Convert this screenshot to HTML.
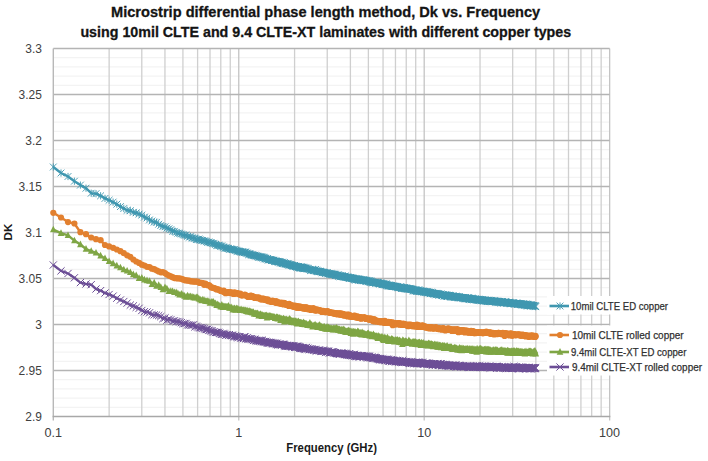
<!DOCTYPE html><html><head><meta charset="utf-8"><style>html,body{margin:0;padding:0;background:#fff;width:708px;height:461px;overflow:hidden}svg{display:block}text{font-family:"Liberation Sans",sans-serif}</style></head><body>
<svg width="708" height="461" viewBox="0 0 708 461">
<line x1="53.30" y1="57.70" x2="609.65" y2="57.70" stroke="#f0f0f0" stroke-width="1"/>
<line x1="53.30" y1="66.90" x2="609.65" y2="66.90" stroke="#f0f0f0" stroke-width="1"/>
<line x1="53.30" y1="76.10" x2="609.65" y2="76.10" stroke="#f0f0f0" stroke-width="1"/>
<line x1="53.30" y1="85.30" x2="609.65" y2="85.30" stroke="#f0f0f0" stroke-width="1"/>
<line x1="53.30" y1="103.70" x2="609.65" y2="103.70" stroke="#f0f0f0" stroke-width="1"/>
<line x1="53.30" y1="112.90" x2="609.65" y2="112.90" stroke="#f0f0f0" stroke-width="1"/>
<line x1="53.30" y1="122.10" x2="609.65" y2="122.10" stroke="#f0f0f0" stroke-width="1"/>
<line x1="53.30" y1="131.30" x2="609.65" y2="131.30" stroke="#f0f0f0" stroke-width="1"/>
<line x1="53.30" y1="149.70" x2="609.65" y2="149.70" stroke="#f0f0f0" stroke-width="1"/>
<line x1="53.30" y1="158.90" x2="609.65" y2="158.90" stroke="#f0f0f0" stroke-width="1"/>
<line x1="53.30" y1="168.10" x2="609.65" y2="168.10" stroke="#f0f0f0" stroke-width="1"/>
<line x1="53.30" y1="177.30" x2="609.65" y2="177.30" stroke="#f0f0f0" stroke-width="1"/>
<line x1="53.30" y1="195.70" x2="609.65" y2="195.70" stroke="#f0f0f0" stroke-width="1"/>
<line x1="53.30" y1="204.90" x2="609.65" y2="204.90" stroke="#f0f0f0" stroke-width="1"/>
<line x1="53.30" y1="214.10" x2="609.65" y2="214.10" stroke="#f0f0f0" stroke-width="1"/>
<line x1="53.30" y1="223.30" x2="609.65" y2="223.30" stroke="#f0f0f0" stroke-width="1"/>
<line x1="53.30" y1="241.70" x2="609.65" y2="241.70" stroke="#f0f0f0" stroke-width="1"/>
<line x1="53.30" y1="250.90" x2="609.65" y2="250.90" stroke="#f0f0f0" stroke-width="1"/>
<line x1="53.30" y1="260.10" x2="609.65" y2="260.10" stroke="#f0f0f0" stroke-width="1"/>
<line x1="53.30" y1="269.30" x2="609.65" y2="269.30" stroke="#f0f0f0" stroke-width="1"/>
<line x1="53.30" y1="287.70" x2="609.65" y2="287.70" stroke="#f0f0f0" stroke-width="1"/>
<line x1="53.30" y1="296.90" x2="609.65" y2="296.90" stroke="#f0f0f0" stroke-width="1"/>
<line x1="53.30" y1="306.10" x2="609.65" y2="306.10" stroke="#f0f0f0" stroke-width="1"/>
<line x1="53.30" y1="315.30" x2="609.65" y2="315.30" stroke="#f0f0f0" stroke-width="1"/>
<line x1="53.30" y1="333.70" x2="609.65" y2="333.70" stroke="#f0f0f0" stroke-width="1"/>
<line x1="53.30" y1="342.90" x2="609.65" y2="342.90" stroke="#f0f0f0" stroke-width="1"/>
<line x1="53.30" y1="352.10" x2="609.65" y2="352.10" stroke="#f0f0f0" stroke-width="1"/>
<line x1="53.30" y1="361.30" x2="609.65" y2="361.30" stroke="#f0f0f0" stroke-width="1"/>
<line x1="53.30" y1="379.70" x2="609.65" y2="379.70" stroke="#f0f0f0" stroke-width="1"/>
<line x1="53.30" y1="388.90" x2="609.65" y2="388.90" stroke="#f0f0f0" stroke-width="1"/>
<line x1="53.30" y1="398.10" x2="609.65" y2="398.10" stroke="#f0f0f0" stroke-width="1"/>
<line x1="53.30" y1="407.30" x2="609.65" y2="407.30" stroke="#f0f0f0" stroke-width="1"/>
<line x1="109.13" y1="48.50" x2="109.13" y2="416.50" stroke="#cfcfcf" stroke-width="1.3"/>
<line x1="141.78" y1="48.50" x2="141.78" y2="416.50" stroke="#cfcfcf" stroke-width="1.3"/>
<line x1="164.95" y1="48.50" x2="164.95" y2="416.50" stroke="#cfcfcf" stroke-width="1.3"/>
<line x1="182.92" y1="48.50" x2="182.92" y2="416.50" stroke="#cfcfcf" stroke-width="1.3"/>
<line x1="197.61" y1="48.50" x2="197.61" y2="416.50" stroke="#cfcfcf" stroke-width="1.3"/>
<line x1="210.02" y1="48.50" x2="210.02" y2="416.50" stroke="#cfcfcf" stroke-width="1.3"/>
<line x1="220.78" y1="48.50" x2="220.78" y2="416.50" stroke="#cfcfcf" stroke-width="1.3"/>
<line x1="230.26" y1="48.50" x2="230.26" y2="416.50" stroke="#cfcfcf" stroke-width="1.3"/>
<line x1="294.58" y1="48.50" x2="294.58" y2="416.50" stroke="#cfcfcf" stroke-width="1.3"/>
<line x1="327.23" y1="48.50" x2="327.23" y2="416.50" stroke="#cfcfcf" stroke-width="1.3"/>
<line x1="350.40" y1="48.50" x2="350.40" y2="416.50" stroke="#cfcfcf" stroke-width="1.3"/>
<line x1="368.37" y1="48.50" x2="368.37" y2="416.50" stroke="#cfcfcf" stroke-width="1.3"/>
<line x1="383.06" y1="48.50" x2="383.06" y2="416.50" stroke="#cfcfcf" stroke-width="1.3"/>
<line x1="395.47" y1="48.50" x2="395.47" y2="416.50" stroke="#cfcfcf" stroke-width="1.3"/>
<line x1="406.23" y1="48.50" x2="406.23" y2="416.50" stroke="#cfcfcf" stroke-width="1.3"/>
<line x1="415.71" y1="48.50" x2="415.71" y2="416.50" stroke="#cfcfcf" stroke-width="1.3"/>
<line x1="480.03" y1="48.50" x2="480.03" y2="416.50" stroke="#cfcfcf" stroke-width="1.3"/>
<line x1="512.68" y1="48.50" x2="512.68" y2="416.50" stroke="#cfcfcf" stroke-width="1.3"/>
<line x1="535.85" y1="48.50" x2="535.85" y2="416.50" stroke="#cfcfcf" stroke-width="1.3"/>
<line x1="553.82" y1="48.50" x2="553.82" y2="416.50" stroke="#cfcfcf" stroke-width="1.3"/>
<line x1="568.51" y1="48.50" x2="568.51" y2="416.50" stroke="#cfcfcf" stroke-width="1.3"/>
<line x1="580.92" y1="48.50" x2="580.92" y2="416.50" stroke="#cfcfcf" stroke-width="1.3"/>
<line x1="591.68" y1="48.50" x2="591.68" y2="416.50" stroke="#cfcfcf" stroke-width="1.3"/>
<line x1="601.16" y1="48.50" x2="601.16" y2="416.50" stroke="#cfcfcf" stroke-width="1.3"/>
<line x1="238.75" y1="48.50" x2="238.75" y2="420.50" stroke="#c4c4c4" stroke-width="1.3"/>
<line x1="424.20" y1="48.50" x2="424.20" y2="420.50" stroke="#c4c4c4" stroke-width="1.3"/>
<line x1="609.65" y1="48.50" x2="609.65" y2="420.50" stroke="#c4c4c4" stroke-width="1.3"/>
<line x1="53.30" y1="48.50" x2="609.65" y2="48.50" stroke="#b4b4b4" stroke-width="1.3"/>
<line x1="53.30" y1="94.50" x2="609.65" y2="94.50" stroke="#b4b4b4" stroke-width="1.3"/>
<line x1="53.30" y1="140.50" x2="609.65" y2="140.50" stroke="#b4b4b4" stroke-width="1.3"/>
<line x1="53.30" y1="186.50" x2="609.65" y2="186.50" stroke="#b4b4b4" stroke-width="1.3"/>
<line x1="53.30" y1="232.50" x2="609.65" y2="232.50" stroke="#b4b4b4" stroke-width="1.3"/>
<line x1="53.30" y1="278.50" x2="609.65" y2="278.50" stroke="#b4b4b4" stroke-width="1.3"/>
<line x1="53.30" y1="324.50" x2="609.65" y2="324.50" stroke="#b4b4b4" stroke-width="1.3"/>
<line x1="53.30" y1="370.50" x2="609.65" y2="370.50" stroke="#b4b4b4" stroke-width="1.3"/>
<line x1="53.30" y1="48.50" x2="53.30" y2="420.50" stroke="#b8b8b8" stroke-width="1.4"/>
<line x1="52.60" y1="416.50" x2="610.35" y2="416.50" stroke="#a8a8a8" stroke-width="1.4"/>
<defs>
<marker id="mblue" markerUnits="userSpaceOnUse" markerWidth="12" markerHeight="12" viewBox="-6 -6 12 12" refX="0" refY="0" overflow="visible"><path d="M-3.4,-3.4L3.4,3.4M3.4,-3.4L-3.4,3.4M0,-3.6L0,3.6" stroke="#3f97b0" stroke-width="0.9" fill="none"/></marker>
<marker id="morange" markerUnits="userSpaceOnUse" markerWidth="12" markerHeight="12" viewBox="-6 -6 12 12" refX="0" refY="0" overflow="visible"><circle r="3.1" fill="#e2802f"/></marker>
<marker id="mgreen" markerUnits="userSpaceOnUse" markerWidth="12" markerHeight="12" viewBox="-6 -6 12 12" refX="0" refY="0" overflow="visible"><path d="M0,-3.9L3.3,2.7L-3.3,2.7Z" fill="#7fa645"/></marker>
<marker id="mpurple" markerUnits="userSpaceOnUse" markerWidth="12" markerHeight="12" viewBox="-6 -6 12 12" refX="0" refY="0" overflow="visible"><path d="M-3.6,-3.6L3.6,3.6M3.6,-3.6L-3.6,3.6" stroke="#6c4e96" stroke-width="1" fill="none"/></marker>
</defs>
<polyline points="53.3,167.0 61.0,173.0 68.0,176.5 74.4,181.2 80.4,185.1 86.0,188.2 91.2,193.2 96.0,193.7 100.6,195.8 105.0,198.4 109.1,200.2 113.1,202.1 116.8,204.2 120.4,206.6 123.8,208.5 127.1,210.3 130.3,210.7 133.3,212.3 136.2,212.8 139.1,214.1 141.8,215.1 144.4,217.1 147.0,218.0 149.5,219.9 151.9,221.0 154.2,222.1 156.5,222.3 158.7,224.2 160.8,225.5 162.9,226.5 165.0,226.8 166.9,228.1 168.9,228.8 170.8,229.7 172.6,231.2 174.4,231.3 176.2,232.3 177.9,233.2 179.6,233.2 181.3,234.0 182.9,234.7 184.5,235.2 186.1,235.2 187.6,236.3 189.1,237.3 190.6,236.6 192.1,238.0 193.5,238.1 194.9,238.2 196.3,239.6 197.6,239.5 198.9,239.0 200.2,239.9 201.5,240.4 202.8,240.4 204.1,241.0 205.3,241.0 206.5,241.7 207.7,242.4 208.9,241.9 210.0,242.7 211.2,242.8 212.3,243.4 213.4,243.3 214.5,243.9 215.6,244.4 216.6,245.2 217.7,245.7 218.7,245.1 219.8,245.6 220.8,246.6 221.8,245.8 222.8,246.8 223.7,247.2 224.7,248.1 225.7,248.1 226.6,247.9 227.5,248.2 228.5,248.4 229.4,249.4 230.3,248.8 231.2,249.1 232.0,249.6 232.9,249.6 233.8,249.8 234.6,249.6 235.5,250.3 236.3,250.3 237.1,251.2 237.9,251.1 238.8,251.1 239.6,251.5 240.3,251.4 241.1,252.1 241.9,251.9 242.7,252.4 243.4,251.9 244.2,252.7 244.9,252.1 245.7,252.2 246.4,253.1 247.2,253.1 247.9,253.7 248.6,254.7 249.3,253.7 250.0,254.0 250.7,254.5 251.4,254.9 252.1,254.8 252.8,255.0 253.4,255.5 254.1,255.6 254.8,255.2 255.4,255.8 256.1,256.0 256.7,255.7 257.4,256.4 258.0,256.2 258.6,257.1 259.3,256.9 259.9,257.1 260.5,257.0 261.1,257.3 261.7,256.7 262.3,257.2 262.9,258.0 263.5,257.2 264.1,258.5 264.7,257.6 265.3,258.8 265.8,258.3 266.4,259.1 267.0,259.0 267.6,258.5 268.1,259.7 268.7,260.0 269.2,259.5 269.8,259.6 270.3,259.8 270.9,259.6 271.4,260.5 271.9,260.0 272.5,260.4 273.0,260.2 273.5,260.4 274.0,260.3 274.6,261.4 275.1,261.0 275.6,261.6 276.1,261.3 276.6,261.2 277.1,261.4 277.6,261.5 278.1,261.8 278.6,261.8 279.1,262.0 279.6,261.6 280.1,262.0 280.5,263.1 281.0,262.3 281.5,262.3 282.0,263.0 282.4,263.5 282.9,262.5 283.4,263.1 283.8,263.1 284.3,262.7 284.7,263.9 285.2,263.7 285.6,263.8 286.1,263.6 286.5,264.2 287.0,263.9 287.4,264.2 287.9,263.9 288.3,264.0 288.7,265.1 289.2,264.5 289.6,264.9 290.0,264.9 290.4,264.8 290.9,264.9 291.3,265.5 291.7,265.2 292.1,265.4 292.5,265.5 292.9,266.1 293.4,266.0 293.8,266.0 294.2,265.7 294.6,265.5 295.0,266.5 295.4,266.6 295.8,266.2 296.2,266.6 296.6,266.8 297.0,266.9 297.3,267.0 297.7,266.6 298.1,267.5 298.5,266.4 298.9,267.4 299.3,267.3 299.6,267.5 300.0,268.0 300.4,268.0 300.8,267.0 301.1,266.9 301.5,267.9 301.9,267.3 302.3,267.8 302.6,268.2 303.0,267.3 303.3,267.2 303.7,268.2 304.1,268.2 304.4,268.2 304.8,268.4 305.1,268.1 305.5,267.9 305.8,268.5 306.5,268.1 307.2,268.9 307.9,268.7 308.6,268.8 309.3,269.4 309.9,269.6 310.6,270.5 311.2,270.1 311.9,269.9 312.5,269.9 313.2,270.2 313.8,270.2 314.5,270.5 315.1,270.3 315.7,269.4 316.3,271.4 316.9,270.5 317.5,271.6 318.1,271.3 318.7,271.4 319.3,271.7 319.9,271.2 320.5,271.5 321.1,271.4 321.7,272.0 322.2,272.8 322.8,272.1 323.4,272.5 323.9,272.6 324.5,272.7 325.1,272.6 325.6,273.3 326.2,273.0 326.7,272.9 327.2,272.5 327.8,273.7 328.3,273.7 328.8,273.7 329.4,273.6 329.9,274.4 330.4,273.9 330.9,273.8 331.4,274.3 331.9,274.1 332.4,274.3 332.9,274.3 333.4,274.4 333.9,274.0 334.4,274.4 334.9,274.5 335.4,275.5 335.9,274.8 336.4,275.1 336.8,275.4 337.3,275.2 337.8,275.0 338.3,275.0 338.7,276.1 339.2,276.1 339.6,275.9 340.1,276.7 340.6,275.7 341.0,276.1 341.5,276.5 341.9,275.9 342.4,276.5 342.8,276.5 343.2,276.4 343.7,276.7 344.1,276.9 344.6,277.0 345.0,276.2 345.4,276.2 345.8,277.4 346.3,277.1 346.7,277.1 347.1,277.6 347.5,277.5 347.9,277.0 348.4,277.5 348.8,277.7 349.2,278.2 349.6,278.2 350.0,278.1 350.4,277.8 350.8,277.5 351.2,278.4 351.6,278.3 352.0,277.6 352.4,278.4 352.8,278.3 353.2,278.6 353.6,278.2 353.9,278.9 354.3,279.3 354.7,279.4 355.1,278.8 355.5,280.0 355.9,279.7 356.2,279.2 356.6,279.0 357.0,278.8 357.3,279.5 357.7,279.2 358.1,279.5 358.4,279.2 358.8,279.2 359.2,279.7 359.5,279.2 359.9,279.6 360.2,280.3 360.6,280.6 361.0,280.2 361.3,279.8 361.7,280.1 362.2,279.9 362.7,280.8 363.2,279.8 363.7,279.9 364.2,280.1 364.7,280.3 365.3,280.6 365.8,281.1 366.3,280.3 366.7,281.3 367.2,281.3 367.7,280.7 368.2,281.7 368.7,281.0 369.2,280.5 369.7,282.1 370.1,281.2 370.6,282.2 371.1,281.2 371.5,282.0 372.0,282.1 372.5,283.0 372.9,282.3 373.4,282.4 373.8,282.4 374.3,282.3 374.7,282.4 375.2,282.2 375.6,282.6 376.1,282.9 376.5,282.8 376.9,283.0 377.4,282.7 377.8,283.2 378.2,282.6 378.6,283.5 379.1,283.4 379.5,283.6 379.9,284.1 380.3,283.1 380.7,282.8 381.2,283.4 381.6,283.8 382.0,284.7 382.4,283.6 382.8,284.4 383.2,284.0 383.6,284.6 384.0,284.3 384.4,283.9 384.8,284.8 385.2,284.5 385.6,284.7 386.0,284.6 386.3,283.8 386.7,285.3 387.1,285.2 387.5,285.0 387.9,286.0 388.3,285.4 388.6,286.0 389.0,285.4 389.4,284.9 389.8,285.4 390.1,285.9 390.5,286.2 390.9,285.5 391.2,285.6 391.6,285.6 391.9,286.4 392.3,286.6 392.7,286.2 393.0,286.2 393.4,286.5 393.7,285.8 394.1,286.4 394.4,286.4 394.9,286.2 395.4,286.5 395.8,286.3 396.3,286.8 396.7,286.8 397.2,286.8 397.6,287.4 398.1,287.3 398.5,287.4 399.0,287.2 399.4,287.8 399.8,287.1 400.3,286.8 400.7,287.6 401.1,287.5 401.6,288.6 402.0,288.4 402.4,288.0 402.8,287.9 403.3,288.3 403.7,288.5 404.1,287.9 404.5,287.5 404.9,288.6 405.3,288.3 405.7,287.7 406.1,288.7 406.5,288.0 406.9,288.9 407.3,288.7 407.7,288.9 408.1,289.1 408.5,289.1 408.9,288.6 409.3,288.8 409.7,288.9 410.1,288.8 410.4,288.9 410.8,289.0 411.2,289.3 411.6,289.3 412.0,289.2 412.3,289.3 412.7,289.5 413.1,290.8 413.4,290.0 413.8,289.8 414.2,290.1 414.5,290.9 414.9,290.8 415.3,290.5 415.6,290.3 416.0,290.7 416.3,289.9 416.7,291.4 417.0,290.6 417.4,291.0 417.8,290.8 418.3,289.9 418.7,291.2 419.1,290.3 419.6,290.9 420.0,290.9 420.4,291.1 420.8,291.0 421.2,291.7 421.7,291.2 422.1,291.7 422.5,291.7 422.9,291.1 423.3,291.3 423.7,292.1 424.1,292.0 424.5,291.9 424.9,291.6 425.3,292.1 425.7,292.2 426.1,292.1 426.5,292.1 426.9,291.5 427.3,291.8 427.7,293.1 428.1,292.4 428.4,292.4 428.8,292.1 429.2,292.4 429.6,293.1 429.9,292.6 430.3,293.7 430.7,292.7 431.1,292.1 431.4,293.2 431.8,292.9 432.2,293.6 432.5,292.7 432.9,293.3 433.3,293.3 433.6,293.4 434.0,293.6 434.3,294.2 434.7,293.8 435.0,293.5 435.4,293.3 435.8,294.9 436.2,293.6 436.6,293.7 437.1,293.8 437.5,294.1 437.9,293.8 438.3,294.0 438.7,294.1 439.1,294.9 439.5,294.9 439.9,294.3 440.3,294.4 440.7,294.2 441.1,294.2 441.5,295.0 441.8,295.2 442.2,294.8 442.6,295.5 443.0,295.2 443.4,294.7 443.8,294.8 444.1,296.4 444.5,295.7 444.9,295.6 445.3,294.8 445.6,295.7 446.0,295.6 446.4,295.2 446.7,296.1 447.1,295.8 447.5,296.5 447.8,296.1 448.2,295.7 448.5,295.4 448.9,295.2 449.3,295.4 449.6,295.9 450.0,295.7 450.3,295.4 450.7,296.8 451.1,296.3 451.5,297.0 451.9,296.3 452.3,297.2 452.7,296.0 453.1,296.2 453.5,296.9 453.9,296.5 454.3,296.9 454.7,296.6 455.1,297.4 455.4,297.0 455.8,296.1 456.2,296.8 456.6,297.1 457.0,296.7 457.3,297.0 457.7,297.0 458.1,297.5 458.5,297.2 458.8,297.2 459.2,296.6 459.5,298.0 459.9,297.8 460.3,297.3 460.6,297.7 461.0,297.5 461.3,297.9 461.7,297.5 462.1,297.6 462.4,297.7 462.8,297.4 463.2,297.7 463.6,297.6 463.9,298.7 464.3,298.0 464.7,297.9 465.1,298.7 465.5,298.6 465.9,298.4 466.3,298.9 466.7,298.2 467.0,297.9 467.4,298.1 467.8,298.6 468.2,298.6 468.5,297.7 468.9,299.0 469.3,298.4 469.6,299.2 470.0,299.2 470.4,298.3 470.7,298.7 471.1,299.3 471.5,299.4 471.8,298.1 472.2,298.7 472.5,298.8 472.9,299.4 473.2,298.8 473.6,299.1 474.0,299.9 474.4,299.6 474.8,299.7 475.2,299.5 475.6,299.0 475.9,299.6 476.3,300.0 476.7,299.5 477.1,299.7 477.4,299.5 477.8,299.5 478.2,299.9 478.6,299.1 478.9,300.4 479.3,300.2 479.7,300.2 480.0,299.4 480.4,299.6 480.7,299.7 481.1,300.5 481.5,300.0 481.8,299.9 482.2,299.8 482.5,300.4 482.9,300.8 483.3,300.0 483.6,301.0 484.0,300.1 484.4,300.8 484.8,300.4 485.2,300.8 485.6,300.3 485.9,301.0 486.3,300.8 486.7,300.5 487.0,300.4 487.4,301.5 487.8,300.8 488.1,301.0 488.5,300.1 488.9,301.5 489.2,300.8 489.6,301.4 489.9,301.2 490.3,300.4 490.6,300.6 491.0,301.0 491.4,300.9 491.7,301.1 492.1,301.3 492.5,301.6 492.9,301.1 493.3,301.5 493.6,301.1 494.0,301.0 494.4,301.6 494.7,300.9 495.1,301.4 495.5,301.7 495.8,302.1 496.2,301.9 496.6,301.3 496.9,302.4 497.3,301.1 497.6,301.7 498.0,302.1 498.4,301.4 498.7,301.7 499.1,302.1 499.4,301.7 499.8,301.4 500.2,302.0 500.6,303.0 500.9,302.0 501.3,301.5 501.7,301.7 502.1,302.3 502.4,302.4 502.8,302.4 503.1,302.5 503.5,302.6 503.9,302.1 504.2,302.8 504.6,302.5 504.9,302.0 505.3,301.8 505.6,302.4 506.0,302.7 506.4,302.8 506.8,302.6 507.1,303.4 507.5,302.7 507.9,302.5 508.2,303.2 508.6,302.3 509.0,303.0 509.3,302.2 509.7,302.8 510.1,303.3 510.4,303.4 510.8,303.5 511.1,303.0 511.5,303.0 511.8,303.3 512.2,303.4 512.5,303.2 512.9,302.6 513.3,303.4 513.7,303.4 514.0,303.4 514.4,304.3 514.8,303.7 515.1,303.5 515.5,303.9 515.9,303.1 516.2,303.9 516.6,303.3 516.9,303.2 517.3,304.2 517.7,303.8 518.0,303.8 518.4,303.9 518.7,304.0 519.1,303.7 519.5,303.9 519.8,304.5 520.2,303.5 520.6,303.8 520.9,304.1 521.3,303.8 521.7,305.1 522.0,304.4 522.4,304.2 522.7,304.6 523.1,304.2 523.4,305.0 523.8,304.8 524.1,304.3 524.5,304.7 524.9,305.0 525.3,304.8 525.6,304.3 526.0,305.1 526.4,303.9 526.7,304.8 527.1,304.9 527.4,306.1 527.8,304.3 528.1,305.3 528.5,305.4 528.9,304.6 529.2,305.3 529.6,305.3 529.9,305.8 530.3,305.3 530.7,304.8 531.0,304.9 531.4,305.3 531.8,305.4 532.1,305.6 532.5,305.8 532.8,305.4 533.2,306.0 533.5,305.4 533.9,305.4 534.3,306.1 534.6,306.0 535.0,305.7 535.4,306.2 535.7,306.7" fill="none" stroke="#3f97b0" stroke-width="2.4" stroke-linejoin="round" marker-start="url(#mblue)" marker-mid="url(#mblue)" marker-end="url(#mblue)"/>
<polyline points="53.3,212.8 61.0,217.5 68.0,222.1 74.4,223.5 80.4,232.2 86.0,234.2 91.2,237.5 96.0,239.2 100.6,240.2 105.0,245.0 109.1,246.4 113.1,247.8 116.8,249.5 120.4,251.2 123.8,253.2 127.1,255.3 130.3,256.8 133.3,259.5 136.2,261.5 139.1,262.9 141.8,264.7 144.4,265.5 147.0,266.8 149.5,267.1 151.9,268.7 154.2,269.2 156.5,270.3 158.7,271.4 160.8,272.3 162.9,272.2 165.0,273.1 166.9,274.5 168.9,275.6 170.8,276.3 172.6,277.2 174.4,278.1 176.2,278.2 177.9,278.4 179.6,278.3 181.3,278.8 182.9,279.4 184.5,280.1 186.1,280.4 187.6,280.5 189.1,280.7 190.6,281.3 192.1,281.3 193.5,281.5 194.9,281.7 196.3,281.5 197.6,281.6 198.9,282.6 200.2,282.9 201.5,282.9 202.8,283.1 204.1,284.8 205.3,283.7 206.5,284.5 207.7,285.2 208.9,285.0 210.0,286.2 211.2,287.5 212.3,287.5 213.4,287.9 214.5,288.3 215.6,288.5 216.6,289.4 217.7,289.3 218.7,289.5 219.8,290.2 220.8,291.0 221.8,291.0 222.8,291.6 223.7,290.5 224.7,292.5 225.7,293.2 226.6,292.9 227.5,292.2 228.5,292.1 229.4,292.8 230.3,292.2 231.2,293.2 232.0,292.7 232.9,293.6 233.8,293.9 234.6,292.3 235.5,293.6 236.3,293.2 237.1,293.0 237.9,293.5 238.8,293.8 239.6,294.6 240.3,293.5 241.1,294.9 241.9,295.6 242.7,295.0 243.4,295.1 244.2,295.0 244.9,294.6 245.7,295.6 246.4,295.6 247.2,296.0 247.9,297.0 248.6,296.2 249.3,296.2 250.0,296.9 250.7,295.6 251.4,295.8 252.1,296.4 252.8,296.4 253.4,297.2 254.1,296.8 254.8,297.9 255.4,298.0 256.1,297.8 256.7,297.3 257.4,298.0 258.0,298.2 258.6,297.4 259.3,298.3 259.9,298.6 260.5,298.5 261.1,299.4 261.7,299.3 262.3,298.5 262.9,299.1 263.5,298.7 264.1,299.6 264.7,299.0 265.3,300.0 265.8,299.9 266.4,300.3 267.0,299.9 267.6,299.4 268.1,301.1 268.7,300.3 269.2,301.2 269.8,300.9 270.3,301.1 270.9,301.8 271.4,301.2 271.9,301.9 272.5,300.5 273.0,301.8 273.5,301.4 274.0,301.6 274.6,301.8 275.1,302.1 275.6,302.8 276.1,301.2 276.6,302.3 277.1,302.0 277.6,303.1 278.1,302.4 278.6,302.9 279.1,302.6 279.6,303.3 280.1,303.6 280.5,303.0 281.0,303.3 281.5,302.7 282.0,303.6 282.4,304.0 282.9,303.4 283.4,304.4 283.8,302.9 284.3,303.1 284.7,303.4 285.2,304.0 285.6,304.3 286.1,304.4 286.5,304.5 287.0,305.0 287.4,304.5 287.9,304.2 288.3,304.3 288.7,306.0 289.2,303.9 289.6,305.1 290.0,306.0 290.4,305.6 290.9,305.0 291.3,305.5 291.7,306.0 292.1,306.3 292.5,305.3 292.9,306.2 293.4,306.1 293.8,306.6 294.2,306.8 294.6,306.0 295.0,305.5 295.4,306.5 295.8,307.3 296.2,306.8 296.6,306.7 297.0,307.8 297.3,306.2 297.7,307.3 298.1,306.6 298.5,307.0 298.9,307.1 299.3,307.9 299.6,306.7 300.0,307.0 300.4,306.5 300.8,307.6 301.1,307.2 301.5,307.7 301.9,307.1 302.3,307.5 302.6,308.3 303.0,307.7 303.3,308.2 303.7,308.2 304.1,307.8 304.4,307.3 304.8,308.6 305.1,308.3 305.5,308.8 305.8,307.3 306.5,307.4 307.2,309.1 307.9,308.7 308.6,309.2 309.3,309.1 309.9,308.0 310.6,309.9 311.2,309.2 311.9,309.2 312.5,309.4 313.2,308.1 313.8,308.8 314.5,310.3 315.1,309.0 315.7,310.3 316.3,310.6 316.9,309.7 317.5,309.9 318.1,309.8 318.7,310.1 319.3,310.5 319.9,310.5 320.5,310.7 321.1,310.6 321.7,312.0 322.2,311.2 322.8,311.0 323.4,310.9 323.9,311.8 324.5,311.6 325.1,312.1 325.6,311.8 326.2,312.2 326.7,311.6 327.2,311.2 327.8,311.8 328.3,311.7 328.8,311.8 329.4,312.7 329.9,312.7 330.4,312.6 330.9,312.4 331.4,313.0 331.9,312.7 332.4,313.0 332.9,313.3 333.4,312.9 333.9,312.9 334.4,313.8 334.9,313.1 335.4,313.3 335.9,314.0 336.4,313.4 336.8,313.3 337.3,314.5 337.8,314.0 338.3,313.3 338.7,313.9 339.2,313.7 339.6,313.9 340.1,314.8 340.6,313.3 341.0,313.5 341.5,314.6 341.9,314.1 342.4,314.1 342.8,313.9 343.2,315.3 343.7,315.3 344.1,314.7 344.6,314.6 345.0,315.3 345.4,315.5 345.8,315.2 346.3,315.1 346.7,314.7 347.1,315.4 347.5,316.4 347.9,315.0 348.4,314.5 348.8,314.8 349.2,315.6 349.6,316.3 350.0,316.4 350.4,315.6 350.8,315.7 351.2,316.8 351.6,316.2 352.0,316.6 352.4,316.2 352.8,316.3 353.2,317.0 353.6,316.0 353.9,315.9 354.3,316.8 354.7,315.6 355.1,316.9 355.5,317.3 355.9,317.1 356.2,317.0 356.6,317.3 357.0,317.1 357.3,316.4 357.7,317.1 358.1,316.8 358.4,318.0 358.8,317.7 359.2,317.3 359.5,317.7 359.9,317.4 360.2,318.3 360.6,317.2 361.0,317.4 361.3,318.7 361.7,318.0 362.2,318.1 362.7,318.0 363.2,317.9 363.7,318.0 364.2,317.2 364.7,318.1 365.3,318.0 365.8,318.9 366.3,318.7 366.7,318.7 367.2,318.6 367.7,318.3 368.2,318.7 368.7,319.3 369.2,319.7 369.7,318.9 370.1,319.2 370.6,318.3 371.1,320.0 371.5,319.0 372.0,320.3 372.5,320.0 372.9,320.8 373.4,321.0 373.8,319.1 374.3,321.4 374.7,319.5 375.2,320.4 375.6,321.0 376.1,320.8 376.5,321.5 376.9,320.5 377.4,321.3 377.8,321.1 378.2,321.2 378.6,321.5 379.1,321.5 379.5,321.5 379.9,321.0 380.3,322.2 380.7,322.1 381.2,321.6 381.6,321.8 382.0,321.3 382.4,321.3 382.8,321.5 383.2,322.1 383.6,322.8 384.0,321.5 384.4,321.9 384.8,320.9 385.2,322.8 385.6,321.6 386.0,322.4 386.3,322.5 386.7,322.3 387.1,322.6 387.5,322.2 387.9,322.5 388.3,322.4 388.6,321.8 389.0,322.1 389.4,322.0 389.8,322.2 390.1,322.8 390.5,322.6 390.9,322.8 391.2,322.6 391.6,323.5 391.9,323.4 392.3,322.6 392.7,325.2 393.0,322.7 393.4,322.9 393.7,324.1 394.1,323.1 394.4,323.6 394.9,323.2 395.4,324.3 395.8,324.3 396.3,323.8 396.7,323.6 397.2,323.6 397.6,323.9 398.1,323.2 398.5,324.3 399.0,323.0 399.4,324.5 399.8,324.4 400.3,323.6 400.7,323.7 401.1,324.2 401.6,324.8 402.0,324.2 402.4,325.0 402.8,324.4 403.3,323.7 403.7,324.8 404.1,324.5 404.5,324.2 404.9,324.8 405.3,325.0 405.7,324.8 406.1,324.6 406.5,325.2 406.9,325.3 407.3,324.9 407.7,326.1 408.1,325.6 408.5,324.7 408.9,326.1 409.3,325.3 409.7,326.0 410.1,324.7 410.4,325.5 410.8,325.1 411.2,324.9 411.6,325.4 412.0,325.3 412.3,325.2 412.7,326.2 413.1,326.2 413.4,325.6 413.8,326.0 414.2,325.5 414.5,325.3 414.9,325.9 415.3,326.5 415.6,326.3 416.0,325.6 416.3,325.8 416.7,325.8 417.0,324.5 417.4,326.2 417.8,327.0 418.3,325.1 418.7,326.4 419.1,326.4 419.6,325.8 420.0,326.3 420.4,326.9 420.8,326.9 421.2,326.5 421.7,327.0 422.1,325.4 422.5,326.1 422.9,325.5 423.3,326.6 423.7,326.5 424.1,327.1 424.5,326.4 424.9,326.6 425.3,327.1 425.7,327.6 426.1,326.9 426.5,327.1 426.9,327.0 427.3,327.3 427.7,327.0 428.1,328.0 428.4,328.2 428.8,327.6 429.2,327.5 429.6,328.2 429.9,328.2 430.3,327.3 430.7,327.8 431.1,327.8 431.4,327.3 431.8,328.5 432.2,327.3 432.5,327.6 432.9,328.1 433.3,328.0 433.6,328.6 434.0,328.1 434.3,328.2 434.7,328.1 435.0,327.6 435.4,327.7 435.8,327.7 436.2,327.5 436.6,327.6 437.1,328.8 437.5,328.3 437.9,328.3 438.3,329.1 438.7,328.1 439.1,329.1 439.5,328.6 439.9,328.7 440.3,328.8 440.7,329.0 441.1,328.8 441.5,329.7 441.8,328.8 442.2,329.2 442.6,328.5 443.0,328.1 443.4,328.9 443.8,328.6 444.1,329.6 444.5,328.9 444.9,329.0 445.3,330.4 445.6,329.4 446.0,329.1 446.4,330.0 446.7,328.9 447.1,329.2 447.5,328.9 447.8,329.8 448.2,328.9 448.5,328.3 448.9,329.9 449.3,329.8 449.6,329.6 450.0,330.0 450.3,329.4 450.7,329.7 451.1,329.0 451.5,330.1 451.9,330.9 452.3,330.4 452.7,330.9 453.1,329.7 453.5,329.9 453.9,330.1 454.3,329.4 454.7,329.5 455.1,330.6 455.4,330.7 455.8,330.3 456.2,329.7 456.6,330.4 457.0,331.1 457.3,329.0 457.7,331.4 458.1,331.3 458.5,332.2 458.8,331.1 459.2,331.1 459.5,330.4 459.9,330.5 460.3,331.5 460.6,330.1 461.0,331.6 461.3,330.4 461.7,330.4 462.1,330.3 462.4,330.8 462.8,331.5 463.2,330.4 463.6,330.5 463.9,330.4 464.3,331.6 464.7,332.4 465.1,331.4 465.5,330.7 465.9,331.4 466.3,330.9 466.7,331.5 467.0,330.7 467.4,331.0 467.8,332.6 468.2,331.9 468.5,331.4 468.9,332.4 469.3,332.6 469.6,332.0 470.0,331.9 470.4,332.1 470.7,331.8 471.1,330.8 471.5,332.3 471.8,333.0 472.2,331.2 472.5,331.3 472.9,331.3 473.2,331.8 473.6,331.5 474.0,333.1 474.4,332.7 474.8,331.9 475.2,333.2 475.6,332.2 475.9,332.8 476.3,332.9 476.7,332.7 477.1,332.5 477.4,332.4 477.8,333.0 478.2,332.5 478.6,332.6 478.9,332.3 479.3,332.3 479.7,333.0 480.0,332.7 480.4,332.5 480.7,332.5 481.1,332.4 481.5,332.8 481.8,332.7 482.2,332.8 482.5,332.9 482.9,333.3 483.3,332.8 483.6,332.9 484.0,332.4 484.4,332.4 484.8,332.6 485.2,332.5 485.6,332.7 485.9,333.0 486.3,331.7 486.7,332.4 487.0,332.9 487.4,332.7 487.8,333.0 488.1,332.8 488.5,333.1 488.9,332.8 489.2,333.1 489.6,332.3 489.9,333.2 490.3,332.3 490.6,333.0 491.0,334.0 491.4,333.3 491.7,333.5 492.1,333.8 492.5,333.2 492.9,332.8 493.3,333.2 493.6,333.2 494.0,334.5 494.4,333.3 494.7,333.7 495.1,333.6 495.5,334.0 495.8,333.1 496.2,333.6 496.6,333.0 496.9,334.2 497.3,333.3 497.6,333.7 498.0,334.0 498.4,332.9 498.7,332.9 499.1,333.3 499.4,333.8 499.8,333.4 500.2,333.9 500.6,333.5 500.9,334.1 501.3,333.5 501.7,333.8 502.1,333.8 502.4,334.0 502.8,332.9 503.1,334.3 503.5,334.4 503.9,333.3 504.2,334.2 504.6,335.9 504.9,334.2 505.3,333.2 505.6,333.9 506.0,333.8 506.4,334.5 506.8,333.4 507.1,333.8 507.5,334.6 507.9,334.0 508.2,334.5 508.6,334.2 509.0,334.6 509.3,335.4 509.7,334.4 510.1,334.5 510.4,333.4 510.8,334.1 511.1,334.0 511.5,333.7 511.8,334.3 512.2,335.8 512.5,334.5 512.9,334.6 513.3,334.7 513.7,334.1 514.0,334.2 514.4,334.9 514.8,335.2 515.1,334.7 515.5,334.9 515.9,335.1 516.2,335.2 516.6,334.6 516.9,334.9 517.3,335.0 517.7,334.5 518.0,334.7 518.4,334.5 518.7,334.9 519.1,334.8 519.5,335.2 519.8,334.4 520.2,335.4 520.6,335.3 520.9,335.0 521.3,335.5 521.7,335.4 522.0,335.2 522.4,334.7 522.7,335.5 523.1,335.2 523.4,334.9 523.8,335.0 524.1,335.6 524.5,335.2 524.9,335.6 525.3,335.4 525.6,336.4 526.0,335.9 526.4,335.5 526.7,335.8 527.1,335.9 527.4,335.9 527.8,335.9 528.1,336.1 528.5,335.7 528.9,336.9 529.2,336.2 529.6,335.9 529.9,336.0 530.3,336.0 530.7,336.2 531.0,335.6 531.4,335.6 531.8,335.9 532.1,336.4 532.5,335.6 532.8,336.5 533.2,336.5 533.5,335.8 533.9,335.9 534.3,336.4 534.6,336.4 535.0,337.0 535.4,335.9 535.7,336.6" fill="none" stroke="#e2802f" stroke-width="2.4" stroke-linejoin="round" marker-start="url(#morange)" marker-mid="url(#morange)" marker-end="url(#morange)"/>
<polyline points="53.3,229.6 61.0,233.2 68.0,235.3 74.4,240.6 80.4,244.5 86.0,249.0 91.2,251.1 96.0,252.8 100.6,255.7 105.0,258.4 109.1,261.4 113.1,263.5 116.8,265.7 120.4,267.6 123.8,269.6 127.1,270.9 130.3,272.3 133.3,274.5 136.2,275.4 139.1,278.2 141.8,277.8 144.4,279.7 147.0,280.5 149.5,281.1 151.9,284.3 154.2,282.7 156.5,286.1 158.7,285.2 160.8,287.2 162.9,289.6 165.0,287.4 166.9,288.7 168.9,291.3 170.8,291.2 172.6,291.4 174.4,292.4 176.2,292.3 177.9,293.5 179.6,294.9 181.3,294.0 182.9,294.8 184.5,296.0 186.1,297.0 187.6,295.6 189.1,296.6 190.6,296.5 192.1,296.9 193.5,297.5 194.9,297.7 196.3,297.3 197.6,297.5 198.9,298.7 200.2,299.6 201.5,300.6 202.8,299.7 204.1,300.2 205.3,301.1 206.5,301.4 207.7,301.1 208.9,301.5 210.0,303.1 211.2,301.9 212.3,302.2 213.4,301.8 214.5,303.6 215.6,303.5 216.6,305.4 217.7,304.3 218.7,305.4 219.8,305.9 220.8,306.7 221.8,304.9 222.8,307.2 223.7,306.4 224.7,306.6 225.7,306.7 226.6,306.8 227.5,307.0 228.5,305.9 229.4,308.0 230.3,307.9 231.2,307.3 232.0,308.1 232.9,309.9 233.8,308.7 234.6,308.4 235.5,310.0 236.3,308.4 237.1,309.0 237.9,308.9 238.8,309.3 239.6,310.1 240.3,310.2 241.1,309.5 241.9,310.1 242.7,310.4 243.4,310.2 244.2,310.6 244.9,310.3 245.7,310.5 246.4,311.2 247.2,310.6 247.9,311.8 248.6,311.5 249.3,311.2 250.0,311.5 250.7,311.8 251.4,312.2 252.1,312.5 252.8,312.5 253.4,312.2 254.1,313.9 254.8,313.7 255.4,313.3 256.1,314.0 256.7,313.7 257.4,313.5 258.0,313.9 258.6,315.8 259.3,314.8 259.9,314.9 260.5,314.1 261.1,314.9 261.7,316.2 262.3,315.1 262.9,315.7 263.5,315.9 264.1,315.6 264.7,316.4 265.3,315.6 265.8,315.9 266.4,315.3 267.0,317.7 267.6,316.2 268.1,316.2 268.7,317.2 269.2,316.0 269.8,316.5 270.3,316.1 270.9,316.8 271.4,316.6 271.9,317.4 272.5,317.0 273.0,316.8 273.5,317.1 274.0,317.4 274.6,317.2 275.1,318.3 275.6,318.3 276.1,318.0 276.6,317.2 277.1,318.5 277.6,317.4 278.1,318.5 278.6,318.5 279.1,318.1 279.6,318.1 280.1,318.3 280.5,320.2 281.0,318.8 281.5,318.9 282.0,319.8 282.4,319.5 282.9,320.1 283.4,318.6 283.8,318.8 284.3,321.9 284.7,319.7 285.2,319.6 285.6,320.0 286.1,320.7 286.5,319.3 287.0,320.4 287.4,320.2 287.9,320.8 288.3,320.5 288.7,320.2 289.2,320.0 289.6,319.0 290.0,321.4 290.4,319.9 290.9,320.7 291.3,322.2 291.7,320.8 292.1,321.6 292.5,321.2 292.9,321.9 293.4,321.5 293.8,321.2 294.2,322.6 294.6,321.6 295.0,320.9 295.4,321.7 295.8,322.3 296.2,321.3 296.6,322.7 297.0,322.7 297.3,323.7 297.7,321.9 298.1,322.9 298.5,321.4 298.9,322.3 299.3,322.8 299.6,323.0 300.0,322.8 300.4,322.9 300.8,322.6 301.1,322.8 301.5,323.3 301.9,323.6 302.3,323.7 302.6,324.0 303.0,324.2 303.3,322.3 303.7,323.2 304.1,323.5 304.4,323.3 304.8,324.5 305.1,324.3 305.5,323.8 305.8,324.1 306.5,323.9 307.2,324.9 307.9,325.3 308.6,325.0 309.3,324.0 309.9,323.0 310.6,325.6 311.2,324.9 311.9,325.1 312.5,326.8 313.2,326.1 313.8,325.7 314.5,325.7 315.1,324.7 315.7,326.4 316.3,326.0 316.9,326.4 317.5,327.2 318.1,325.9 318.7,326.9 319.3,325.2 319.9,325.5 320.5,327.1 321.1,327.5 321.7,326.6 322.2,328.0 322.8,327.3 323.4,328.2 323.9,327.0 324.5,327.0 325.1,328.6 325.6,328.8 326.2,327.3 326.7,329.0 327.2,327.2 327.8,328.5 328.3,327.7 328.8,327.9 329.4,328.5 329.9,329.0 330.4,328.8 330.9,328.4 331.4,328.6 331.9,329.4 332.4,329.0 332.9,329.7 333.4,328.5 333.9,329.5 334.4,328.7 334.9,329.0 335.4,328.7 335.9,329.5 336.4,328.0 336.8,329.2 337.3,329.2 337.8,329.0 338.3,330.0 338.7,329.5 339.2,330.1 339.6,329.4 340.1,330.0 340.6,330.9 341.0,330.7 341.5,330.2 341.9,329.6 342.4,330.2 342.8,331.3 343.2,331.2 343.7,329.3 344.1,331.0 344.6,330.2 345.0,331.9 345.4,331.1 345.8,331.9 346.3,332.1 346.7,331.4 347.1,331.6 347.5,332.0 347.9,331.0 348.4,331.2 348.8,330.3 349.2,331.7 349.6,332.1 350.0,331.4 350.4,331.6 350.8,333.2 351.2,332.1 351.6,332.8 352.0,331.4 352.4,332.8 352.8,333.0 353.2,334.1 353.6,332.0 353.9,331.8 354.3,332.5 354.7,332.6 355.1,332.0 355.5,333.4 355.9,332.6 356.2,332.8 356.6,333.4 357.0,333.0 357.3,333.1 357.7,331.5 358.1,333.4 358.4,332.0 358.8,333.3 359.2,333.0 359.5,333.9 359.9,333.9 360.2,332.8 360.6,334.3 361.0,332.8 361.3,333.7 361.7,334.9 362.2,332.5 362.7,333.7 363.2,333.3 363.7,333.8 364.2,333.6 364.7,334.6 365.3,334.6 365.8,334.5 366.3,334.9 366.7,335.1 367.2,334.1 367.7,333.8 368.2,333.5 368.7,334.0 369.2,334.8 369.7,335.8 370.1,335.5 370.6,335.0 371.1,335.0 371.5,335.4 372.0,336.6 372.5,336.0 372.9,335.6 373.4,334.3 373.8,335.4 374.3,336.3 374.7,336.2 375.2,336.3 375.6,336.5 376.1,336.3 376.5,336.4 376.9,336.5 377.4,337.4 377.8,338.4 378.2,336.0 378.6,337.7 379.1,337.6 379.5,337.2 379.9,336.9 380.3,338.4 380.7,338.1 381.2,337.9 381.6,338.0 382.0,336.6 382.4,338.4 382.8,339.2 383.2,337.9 383.6,340.2 384.0,339.4 384.4,338.6 384.8,337.5 385.2,338.6 385.6,339.3 386.0,338.4 386.3,339.8 386.7,339.1 387.1,339.6 387.5,337.6 387.9,338.7 388.3,341.1 388.6,340.8 389.0,340.8 389.4,339.8 389.8,339.4 390.1,341.3 390.5,340.3 390.9,340.4 391.2,341.1 391.6,338.9 391.9,340.5 392.3,339.5 392.7,339.7 393.0,340.3 393.4,340.3 393.7,340.6 394.1,341.0 394.4,341.8 394.9,340.3 395.4,341.0 395.8,339.9 396.3,341.4 396.7,340.3 397.2,341.0 397.6,339.8 398.1,340.9 398.5,341.3 399.0,342.1 399.4,340.6 399.8,340.4 400.3,342.4 400.7,341.8 401.1,342.5 401.6,342.3 402.0,341.7 402.4,344.2 402.8,340.2 403.3,342.6 403.7,340.8 404.1,342.6 404.5,342.2 404.9,342.4 405.3,341.1 405.7,341.6 406.1,341.5 406.5,342.0 406.9,342.8 407.3,343.3 407.7,342.3 408.1,342.8 408.5,342.3 408.9,340.3 409.3,341.8 409.7,343.2 410.1,342.9 410.4,343.4 410.8,342.1 411.2,343.1 411.6,343.4 412.0,343.9 412.3,343.9 412.7,342.1 413.1,342.2 413.4,342.4 413.8,342.1 414.2,342.1 414.5,342.3 414.9,342.6 415.3,344.0 415.6,342.0 416.0,343.8 416.3,343.6 416.7,343.2 417.0,342.6 417.4,343.3 417.8,344.5 418.3,343.1 418.7,342.6 419.1,343.2 419.6,342.4 420.0,343.5 420.4,344.0 420.8,345.2 421.2,343.4 421.7,342.6 422.1,344.0 422.5,344.5 422.9,343.8 423.3,343.0 423.7,344.7 424.1,345.0 424.5,344.7 424.9,343.8 425.3,344.4 425.7,344.4 426.1,345.5 426.5,344.2 426.9,344.7 427.3,345.2 427.7,344.4 428.1,345.7 428.4,343.4 428.8,344.6 429.2,343.6 429.6,345.2 429.9,344.8 430.3,345.3 430.7,344.3 431.1,344.0 431.4,344.4 431.8,345.7 432.2,344.9 432.5,344.7 432.9,345.5 433.3,346.5 433.6,345.7 434.0,345.3 434.3,344.5 434.7,345.4 435.0,346.2 435.4,346.0 435.8,344.7 436.2,345.8 436.6,345.1 437.1,346.9 437.5,346.1 437.9,344.7 438.3,347.1 438.7,346.7 439.1,346.3 439.5,345.4 439.9,346.2 440.3,346.6 440.7,345.7 441.1,347.5 441.5,346.9 441.8,347.4 442.2,345.8 442.6,346.2 443.0,346.0 443.4,347.0 443.8,346.3 444.1,348.2 444.5,346.0 444.9,347.3 445.3,346.9 445.6,347.4 446.0,348.2 446.4,347.5 446.7,347.0 447.1,345.8 447.5,347.2 447.8,347.7 448.2,348.4 448.5,347.5 448.9,347.6 449.3,348.0 449.6,348.0 450.0,347.0 450.3,347.3 450.7,348.3 451.1,347.7 451.5,347.2 451.9,348.7 452.3,348.6 452.7,349.3 453.1,349.4 453.5,348.4 453.9,348.7 454.3,348.4 454.7,347.7 455.1,348.4 455.4,348.5 455.8,348.1 456.2,349.0 456.6,348.4 457.0,348.9 457.3,349.5 457.7,349.7 458.1,349.4 458.5,349.6 458.8,349.3 459.2,349.2 459.5,347.8 459.9,349.8 460.3,350.2 460.6,349.0 461.0,348.4 461.3,349.4 461.7,350.6 462.1,348.5 462.4,350.2 462.8,349.4 463.2,349.4 463.6,348.7 463.9,350.1 464.3,349.8 464.7,349.4 465.1,349.2 465.5,350.2 465.9,349.2 466.3,349.1 466.7,350.4 467.0,349.5 467.4,349.3 467.8,348.7 468.2,350.1 468.5,350.2 468.9,350.1 469.3,349.3 469.6,349.4 470.0,348.9 470.4,349.9 470.7,350.3 471.1,350.0 471.5,349.7 471.8,349.2 472.2,351.0 472.5,350.2 472.9,349.0 473.2,349.6 473.6,350.7 474.0,351.0 474.4,350.3 474.8,349.5 475.2,350.0 475.6,350.6 475.9,349.9 476.3,350.3 476.7,352.1 477.1,348.7 477.4,350.3 477.8,350.9 478.2,350.3 478.6,350.1 478.9,350.7 479.3,349.0 479.7,350.3 480.0,349.9 480.4,348.7 480.7,351.3 481.1,349.1 481.5,350.9 481.8,350.0 482.2,350.1 482.5,351.2 482.9,350.0 483.3,350.1 483.6,351.2 484.0,350.7 484.4,349.8 484.8,349.6 485.2,349.3 485.6,350.9 485.9,350.1 486.3,351.8 486.7,349.6 487.0,351.1 487.4,349.7 487.8,351.6 488.1,349.7 488.5,350.0 488.9,351.7 489.2,349.9 489.6,350.4 489.9,351.0 490.3,350.2 490.6,352.1 491.0,351.1 491.4,351.5 491.7,350.9 492.1,351.4 492.5,351.1 492.9,350.4 493.3,351.9 493.6,350.2 494.0,350.2 494.4,351.4 494.7,351.7 495.1,350.9 495.5,350.6 495.8,350.0 496.2,350.1 496.6,351.4 496.9,351.5 497.3,351.7 497.6,350.3 498.0,351.4 498.4,352.0 498.7,352.1 499.1,351.8 499.4,351.2 499.8,351.5 500.2,352.1 500.6,351.0 500.9,350.5 501.3,350.1 501.7,351.3 502.1,350.3 502.4,351.3 502.8,352.3 503.1,352.4 503.5,351.3 503.9,350.9 504.2,350.8 504.6,352.0 504.9,352.0 505.3,351.1 505.6,351.4 506.0,352.2 506.4,352.0 506.8,351.4 507.1,352.8 507.5,350.7 507.9,351.5 508.2,353.0 508.6,351.1 509.0,352.0 509.3,351.8 509.7,351.7 510.1,351.7 510.4,352.0 510.8,352.5 511.1,351.9 511.5,352.0 511.8,351.1 512.2,352.2 512.5,351.7 512.9,353.4 513.3,351.1 513.7,352.8 514.0,351.2 514.4,351.5 514.8,351.3 515.1,352.2 515.5,352.8 515.9,351.9 516.2,352.7 516.6,351.5 516.9,350.9 517.3,351.9 517.7,352.0 518.0,352.9 518.4,351.3 518.7,352.7 519.1,351.6 519.5,353.0 519.8,352.7 520.2,352.1 520.6,351.8 520.9,352.5 521.3,353.0 521.7,352.2 522.0,351.7 522.4,352.5 522.7,353.1 523.1,353.0 523.4,352.3 523.8,352.8 524.1,352.9 524.5,351.9 524.9,353.8 525.3,352.3 525.6,353.0 526.0,351.5 526.4,353.4 526.7,352.9 527.1,352.9 527.4,352.3 527.8,352.5 528.1,352.5 528.5,352.6 528.9,351.5 529.2,352.5 529.6,351.5 529.9,351.8 530.3,351.3 530.7,352.3 531.0,352.2 531.4,352.5 531.8,351.9 532.1,353.2 532.5,353.2 532.8,353.7 533.2,352.7 533.5,352.1 533.9,352.0 534.3,351.4 534.6,353.1 535.0,350.9 535.4,352.9 535.7,353.8" fill="none" stroke="#7fa645" stroke-width="2.4" stroke-linejoin="round" marker-start="url(#mgreen)" marker-mid="url(#mgreen)" marker-end="url(#mgreen)"/>
<polyline points="53.3,265.0 61.0,270.9 68.0,273.5 74.4,277.8 80.4,282.6 86.0,284.0 91.2,284.7 96.0,289.0 100.6,290.6 105.0,293.0 109.1,294.5 113.1,296.1 116.8,298.2 120.4,300.0 123.8,301.5 127.1,303.1 130.3,305.1 133.3,305.9 136.2,307.4 139.1,308.3 141.8,310.5 144.4,311.7 147.0,312.0 149.5,312.8 151.9,314.6 154.2,314.9 156.5,315.1 158.7,315.6 160.8,316.6 162.9,318.6 165.0,317.9 166.9,320.1 168.9,319.4 170.8,319.8 172.6,321.0 174.4,320.8 176.2,321.6 177.9,321.5 179.6,322.0 181.3,322.7 182.9,323.6 184.5,323.6 186.1,323.4 187.6,324.9 189.1,325.0 190.6,325.2 192.1,325.3 193.5,324.8 194.9,326.9 196.3,326.2 197.6,327.0 198.9,327.7 200.2,327.9 201.5,327.9 202.8,328.1 204.1,328.6 205.3,329.3 206.5,329.5 207.7,329.4 208.9,330.2 210.0,330.5 211.2,331.0 212.3,331.1 213.4,332.0 214.5,331.8 215.6,332.5 216.6,332.4 217.7,332.5 218.7,332.6 219.8,333.2 220.8,333.8 221.8,334.3 222.8,333.9 223.7,333.9 224.7,334.1 225.7,335.2 226.6,334.8 227.5,334.7 228.5,335.4 229.4,334.6 230.3,335.5 231.2,335.5 232.0,335.6 232.9,335.3 233.8,336.5 234.6,336.9 235.5,335.7 236.3,336.5 237.1,336.9 237.9,337.8 238.8,336.7 239.6,336.6 240.3,337.1 241.1,338.2 241.9,337.5 242.7,337.7 243.4,338.6 244.2,336.9 244.9,337.0 245.7,338.6 246.4,338.7 247.2,337.8 247.9,338.9 248.6,338.8 249.3,339.0 250.0,338.7 250.7,339.0 251.4,338.9 252.1,339.5 252.8,339.5 253.4,340.5 254.1,340.1 254.8,339.2 255.4,340.3 256.1,340.9 256.7,340.4 257.4,340.9 258.0,340.5 258.6,341.0 259.3,340.4 259.9,341.3 260.5,340.4 261.1,341.7 261.7,340.6 262.3,340.4 262.9,341.7 263.5,341.5 264.1,341.8 264.7,342.0 265.3,341.9 265.8,341.6 266.4,342.2 267.0,342.4 267.6,342.6 268.1,343.4 268.7,342.2 269.2,342.7 269.8,343.0 270.3,342.6 270.9,342.4 271.4,342.8 271.9,343.6 272.5,343.1 273.0,343.6 273.5,343.0 274.0,343.7 274.6,343.2 275.1,343.3 275.6,343.8 276.1,343.8 276.6,344.6 277.1,343.2 277.6,344.3 278.1,344.9 278.6,344.8 279.1,344.1 279.6,344.1 280.1,344.2 280.5,344.7 281.0,344.7 281.5,344.9 282.0,345.0 282.4,344.4 282.9,344.4 283.4,344.4 283.8,344.5 284.3,345.1 284.7,345.4 285.2,346.5 285.6,345.6 286.1,345.5 286.5,346.2 287.0,345.3 287.4,345.8 287.9,346.2 288.3,346.2 288.7,346.1 289.2,345.8 289.6,345.5 290.0,346.0 290.4,345.9 290.9,346.6 291.3,346.2 291.7,346.6 292.1,345.7 292.5,347.0 292.9,346.2 293.4,345.9 293.8,346.1 294.2,346.5 294.6,347.4 295.0,347.3 295.4,346.4 295.8,347.1 296.2,347.1 296.6,346.5 297.0,346.8 297.3,346.4 297.7,347.0 298.1,346.2 298.5,347.2 298.9,347.2 299.3,347.3 299.6,347.3 300.0,348.3 300.4,347.7 300.8,348.0 301.1,348.3 301.5,348.4 301.9,348.4 302.3,347.9 302.6,347.7 303.0,347.9 303.3,348.1 303.7,348.3 304.1,348.3 304.4,348.9 304.8,348.4 305.1,349.4 305.5,349.1 305.8,348.4 306.5,347.4 307.2,349.1 307.9,348.2 308.6,349.0 309.3,349.7 309.9,348.9 310.6,348.9 311.2,349.5 311.9,349.0 312.5,349.8 313.2,349.5 313.8,350.2 314.5,349.6 315.1,350.3 315.7,349.6 316.3,350.9 316.9,350.7 317.5,350.4 318.1,350.3 318.7,350.6 319.3,350.0 319.9,350.4 320.5,351.3 321.1,350.8 321.7,351.5 322.2,351.2 322.8,350.6 323.4,350.3 323.9,351.3 324.5,351.0 325.1,351.2 325.6,352.5 326.2,351.6 326.7,351.3 327.2,351.6 327.8,351.9 328.3,351.4 328.8,351.3 329.4,352.9 329.9,352.6 330.4,352.2 330.9,352.8 331.4,352.0 331.9,352.0 332.4,352.1 332.9,352.0 333.4,352.1 333.9,352.7 334.4,352.8 334.9,352.7 335.4,352.7 335.9,353.4 336.4,353.4 336.8,353.3 337.3,353.7 337.8,353.4 338.3,353.2 338.7,353.5 339.2,353.8 339.6,354.3 340.1,353.4 340.6,353.6 341.0,353.1 341.5,353.4 341.9,353.2 342.4,353.6 342.8,353.7 343.2,354.3 343.7,353.8 344.1,353.2 344.6,354.3 345.0,354.7 345.4,354.0 345.8,353.6 346.3,354.1 346.7,354.3 347.1,355.3 347.5,354.6 347.9,354.6 348.4,354.3 348.8,355.3 349.2,353.9 349.6,354.0 350.0,355.0 350.4,355.5 350.8,355.2 351.2,354.9 351.6,355.0 352.0,355.6 352.4,355.1 352.8,355.5 353.2,355.2 353.6,355.5 353.9,354.4 354.3,354.5 354.7,356.2 355.1,355.7 355.5,355.5 355.9,356.2 356.2,355.5 356.6,356.7 357.0,356.3 357.3,355.2 357.7,355.8 358.1,355.6 358.4,355.7 358.8,356.6 359.2,356.5 359.5,356.3 359.9,356.7 360.2,356.4 360.6,355.7 361.0,356.0 361.3,355.7 361.7,356.5 362.2,355.8 362.7,356.0 363.2,357.0 363.7,356.9 364.2,356.1 364.7,356.5 365.3,356.2 365.8,356.6 366.3,356.2 366.7,356.6 367.2,357.4 367.7,356.2 368.2,357.7 368.7,356.6 369.2,356.6 369.7,356.6 370.1,357.5 370.6,357.7 371.1,357.6 371.5,357.2 372.0,357.4 372.5,357.7 372.9,358.3 373.4,357.9 373.8,358.5 374.3,357.7 374.7,357.1 375.2,358.1 375.6,357.8 376.1,357.8 376.5,358.1 376.9,358.7 377.4,358.5 377.8,358.5 378.2,358.9 378.6,359.0 379.1,359.0 379.5,359.9 379.9,359.0 380.3,358.6 380.7,359.1 381.2,359.5 381.6,359.2 382.0,359.5 382.4,360.0 382.8,358.9 383.2,359.7 383.6,359.7 384.0,359.3 384.4,360.0 384.8,359.9 385.2,359.9 385.6,360.6 386.0,360.0 386.3,359.3 386.7,359.3 387.1,359.6 387.5,360.4 387.9,360.4 388.3,359.3 388.6,359.9 389.0,361.0 389.4,360.6 389.8,361.2 390.1,360.3 390.5,360.0 390.9,360.5 391.2,359.7 391.6,361.6 391.9,360.9 392.3,360.9 392.7,360.2 393.0,360.8 393.4,360.5 393.7,361.1 394.1,360.9 394.4,360.8 394.9,360.8 395.4,361.8 395.8,361.0 396.3,361.9 396.7,361.0 397.2,361.3 397.6,360.5 398.1,361.3 398.5,361.9 399.0,361.8 399.4,360.9 399.8,361.8 400.3,361.1 400.7,361.9 401.1,362.1 401.6,361.8 402.0,361.9 402.4,362.6 402.8,360.4 403.3,361.5 403.7,361.7 404.1,362.4 404.5,362.0 404.9,361.8 405.3,362.2 405.7,361.5 406.1,361.7 406.5,362.1 406.9,362.3 407.3,362.3 407.7,362.1 408.1,362.4 408.5,362.3 408.9,362.4 409.3,362.4 409.7,363.2 410.1,362.8 410.4,363.1 410.8,362.7 411.2,361.5 411.6,363.4 412.0,362.9 412.3,362.2 412.7,362.8 413.1,362.7 413.4,362.9 413.8,363.6 414.2,362.7 414.5,362.6 414.9,363.3 415.3,363.0 415.6,362.3 416.0,363.1 416.3,362.5 416.7,363.6 417.0,363.1 417.4,363.4 417.8,362.2 418.3,363.4 418.7,362.2 419.1,363.1 419.6,362.5 420.0,363.7 420.4,363.1 420.8,363.2 421.2,363.1 421.7,362.9 422.1,363.4 422.5,363.8 422.9,362.6 423.3,363.7 423.7,364.0 424.1,364.3 424.5,363.6 424.9,363.5 425.3,363.5 425.7,363.2 426.1,363.6 426.5,363.0 426.9,363.6 427.3,363.6 427.7,363.7 428.1,364.0 428.4,363.4 428.8,363.9 429.2,363.4 429.6,363.7 429.9,363.7 430.3,364.1 430.7,363.8 431.1,364.2 431.4,363.8 431.8,364.0 432.2,365.5 432.5,364.5 432.9,363.8 433.3,363.8 433.6,364.3 434.0,364.1 434.3,364.5 434.7,364.3 435.0,364.2 435.4,364.7 435.8,365.1 436.2,364.7 436.6,364.2 437.1,364.4 437.5,363.6 437.9,364.0 438.3,364.6 438.7,364.9 439.1,365.1 439.5,365.2 439.9,364.4 440.3,363.8 440.7,364.4 441.1,363.8 441.5,364.9 441.8,365.3 442.2,365.8 442.6,364.9 443.0,364.6 443.4,364.8 443.8,365.2 444.1,365.1 444.5,365.0 444.9,365.7 445.3,364.3 445.6,365.3 446.0,365.4 446.4,365.1 446.7,365.7 447.1,365.0 447.5,365.6 447.8,365.5 448.2,366.2 448.5,365.6 448.9,365.6 449.3,365.6 449.6,365.1 450.0,365.5 450.3,365.6 450.7,366.0 451.1,365.5 451.5,365.8 451.9,365.7 452.3,365.2 452.7,365.4 453.1,365.4 453.5,366.4 453.9,365.5 454.3,365.7 454.7,366.1 455.1,366.2 455.4,365.0 455.8,365.2 456.2,366.4 456.6,366.7 457.0,366.3 457.3,366.4 457.7,366.6 458.1,366.1 458.5,365.8 458.8,365.5 459.2,365.3 459.5,365.8 459.9,366.1 460.3,366.2 460.6,366.5 461.0,366.4 461.3,366.6 461.7,366.7 462.1,366.1 462.4,366.0 462.8,366.2 463.2,366.5 463.6,366.4 463.9,366.8 464.3,366.6 464.7,366.3 465.1,366.3 465.5,366.4 465.9,366.3 466.3,366.8 466.7,366.1 467.0,366.0 467.4,366.4 467.8,366.5 468.2,366.9 468.5,366.8 468.9,367.2 469.3,366.3 469.6,367.5 470.0,366.0 470.4,366.6 470.7,366.3 471.1,366.9 471.5,366.7 471.8,366.5 472.2,366.5 472.5,367.0 472.9,367.1 473.2,367.0 473.6,367.3 474.0,366.5 474.4,366.7 474.8,366.5 475.2,366.4 475.6,366.3 475.9,367.1 476.3,366.0 476.7,366.4 477.1,367.1 477.4,366.1 477.8,367.1 478.2,366.6 478.6,366.7 478.9,366.4 479.3,367.3 479.7,365.9 480.0,367.0 480.4,367.3 480.7,366.7 481.1,367.3 481.5,367.4 481.8,366.5 482.2,366.4 482.5,366.9 482.9,367.4 483.3,366.7 483.6,366.2 484.0,366.9 484.4,367.2 484.8,366.2 485.2,366.8 485.6,366.7 485.9,366.9 486.3,366.6 486.7,366.9 487.0,366.9 487.4,367.1 487.8,367.2 488.1,367.6 488.5,366.5 488.9,366.5 489.2,366.9 489.6,366.4 489.9,367.5 490.3,367.9 490.6,367.3 491.0,366.9 491.4,367.6 491.7,366.5 492.1,367.7 492.5,366.5 492.9,367.5 493.3,367.1 493.6,366.7 494.0,367.2 494.4,367.1 494.7,366.8 495.1,367.4 495.5,366.8 495.8,366.9 496.2,367.1 496.6,366.3 496.9,368.2 497.3,366.6 497.6,367.1 498.0,367.3 498.4,367.0 498.7,367.0 499.1,366.8 499.4,367.7 499.8,367.7 500.2,368.3 500.6,367.5 500.9,367.8 501.3,367.7 501.7,366.9 502.1,367.4 502.4,367.1 502.8,367.6 503.1,367.8 503.5,367.3 503.9,366.8 504.2,367.3 504.6,367.8 504.9,368.2 505.3,367.5 505.6,367.9 506.0,368.4 506.4,367.6 506.8,368.2 507.1,367.8 507.5,367.2 507.9,367.3 508.2,367.5 508.6,368.5 509.0,368.1 509.3,367.3 509.7,367.5 510.1,367.7 510.4,367.9 510.8,367.6 511.1,368.2 511.5,366.9 511.8,368.0 512.2,367.8 512.5,368.5 512.9,367.4 513.3,367.9 513.7,368.2 514.0,366.4 514.4,367.3 514.8,367.4 515.1,367.5 515.5,367.6 515.9,366.8 516.2,367.8 516.6,368.0 516.9,367.9 517.3,367.7 517.7,368.0 518.0,368.3 518.4,367.9 518.7,369.0 519.1,367.1 519.5,368.6 519.8,367.6 520.2,367.9 520.6,367.5 520.9,367.2 521.3,367.9 521.7,367.7 522.0,368.0 522.4,368.1 522.7,367.4 523.1,368.1 523.4,367.6 523.8,368.5 524.1,367.9 524.5,367.9 524.9,367.9 525.3,368.2 525.6,368.2 526.0,367.9 526.4,368.4 526.7,367.8 527.1,368.7 527.4,368.0 527.8,368.0 528.1,368.0 528.5,368.0 528.9,368.4 529.2,367.4 529.6,367.8 529.9,368.7 530.3,368.4 530.7,368.7 531.0,368.4 531.4,367.7 531.8,368.4 532.1,368.0 532.5,367.8 532.8,368.5 533.2,367.9 533.5,367.8 533.9,367.7 534.3,368.4 534.6,368.0 535.0,368.4 535.4,368.1 535.7,367.9" fill="none" stroke="#6c4e96" stroke-width="2.4" stroke-linejoin="round" marker-start="url(#mpurple)" marker-mid="url(#mpurple)" marker-end="url(#mpurple)"/>
<rect x="547" y="296" width="161" height="18.5" fill="#fff"/>
<rect x="547" y="325.5" width="161" height="50" fill="#fff"/>
<line x1="549.5" y1="306" x2="569" y2="306" stroke="#3f97b0" stroke-width="2.6"/>
<polyline points="555,306 560,306 565,306" fill="none" stroke="none" marker-mid="url(#mblue)"/>
<text x="570.8" y="309.6" font-size="10.8" fill="#303030" stroke="#303030" stroke-width="0.25" textLength="97.2" lengthAdjust="spacingAndGlyphs">10mil CLTE ED copper</text>
<line x1="549.5" y1="335" x2="569" y2="335" stroke="#e2802f" stroke-width="2.6"/>
<polyline points="555,335 560,335 565,335" fill="none" stroke="none" marker-mid="url(#morange)"/>
<text x="572" y="338.6" font-size="10.8" fill="#303030" stroke="#303030" stroke-width="0.25" textLength="111.6" lengthAdjust="spacingAndGlyphs">10mil CLTE rolled copper</text>
<line x1="549.5" y1="352" x2="569" y2="352" stroke="#7fa645" stroke-width="2.6"/>
<polyline points="555,352 560,352 565,352" fill="none" stroke="none" marker-mid="url(#mgreen)"/>
<text x="571" y="355.6" font-size="10.8" fill="#303030" stroke="#303030" stroke-width="0.25" textLength="115.4" lengthAdjust="spacingAndGlyphs">9.4mil CLTE-XT ED copper</text>
<line x1="549.5" y1="367" x2="569" y2="367" stroke="#6c4e96" stroke-width="2.6"/>
<polyline points="555,367 560,367 565,367" fill="none" stroke="none" marker-mid="url(#mpurple)"/>
<text x="572" y="370.6" font-size="10.8" fill="#303030" stroke="#303030" stroke-width="0.25" textLength="130.0" lengthAdjust="spacingAndGlyphs">9.4mil CLTE-XT rolled copper</text>
<text x="41.9" y="53.0" font-size="12.6" fill="#404040" text-anchor="end" textLength="16.64" lengthAdjust="spacingAndGlyphs">3.3</text>
<text x="41.9" y="99.0" font-size="12.6" fill="#404040" text-anchor="end" textLength="23.29" lengthAdjust="spacingAndGlyphs">3.25</text>
<text x="41.9" y="145.0" font-size="12.6" fill="#404040" text-anchor="end" textLength="16.64" lengthAdjust="spacingAndGlyphs">3.2</text>
<text x="41.9" y="191.0" font-size="12.6" fill="#404040" text-anchor="end" textLength="23.29" lengthAdjust="spacingAndGlyphs">3.15</text>
<text x="41.9" y="237.0" font-size="12.6" fill="#404040" text-anchor="end" textLength="16.64" lengthAdjust="spacingAndGlyphs">3.1</text>
<text x="41.9" y="283.0" font-size="12.6" fill="#404040" text-anchor="end" textLength="23.29" lengthAdjust="spacingAndGlyphs">3.05</text>
<text x="41.9" y="329.0" font-size="12.6" fill="#404040" text-anchor="end" textLength="6.66" lengthAdjust="spacingAndGlyphs">3</text>
<text x="41.9" y="375.0" font-size="12.6" fill="#404040" text-anchor="end" textLength="23.29" lengthAdjust="spacingAndGlyphs">2.95</text>
<text x="41.9" y="421.0" font-size="12.6" fill="#404040" text-anchor="end" textLength="16.64" lengthAdjust="spacingAndGlyphs">2.9</text>
<text x="53.3" y="437.0" font-size="12.6" fill="#404040" text-anchor="middle">0.1</text>
<text x="238.8" y="437.0" font-size="12.6" fill="#404040" text-anchor="middle">1</text>
<text x="424.2" y="437.0" font-size="12.6" fill="#404040" text-anchor="middle">10</text>
<text x="609.6" y="437.0" font-size="12.6" fill="#404040" text-anchor="middle">100</text>
<text x="331.6" y="451.5" font-size="12.6" font-weight="bold" fill="#1a1a1a" text-anchor="middle" textLength="90.7" lengthAdjust="spacingAndGlyphs">Frequency (GHz)</text>
<text transform="translate(12.4,232) rotate(-90)" font-size="11.6" font-weight="bold" fill="#1a1a1a" text-anchor="middle">DK</text>
<text x="111" y="16.8" font-size="15.3" font-weight="bold" fill="#141414" stroke="#141414" stroke-width="0.3" textLength="429.2" lengthAdjust="spacingAndGlyphs">Microstrip differential phase length method, Dk vs. Frequency</text>
<text x="80.4" y="36.6" font-size="15.3" font-weight="bold" fill="#141414" stroke="#141414" stroke-width="0.3" textLength="490.8" lengthAdjust="spacingAndGlyphs">using 10mil CLTE and 9.4 CLTE-XT laminates with different copper types</text>
</svg></body></html>
